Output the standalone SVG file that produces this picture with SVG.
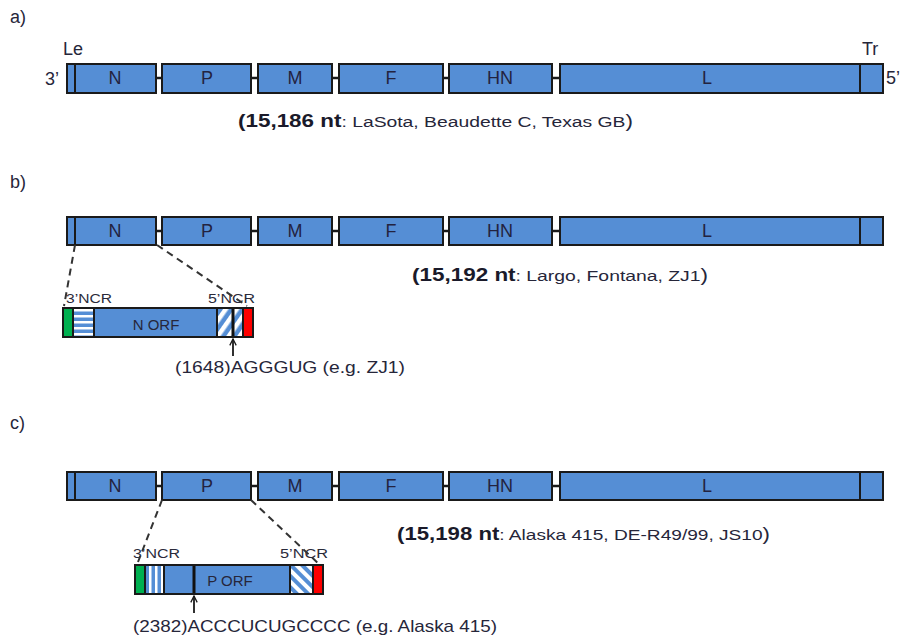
<svg xmlns="http://www.w3.org/2000/svg" width="904" height="637" viewBox="0 0 904 637">
  <style>
    .gene { fill: #558ed5; stroke: #1a1a1a; stroke-width: 2; }
    .div { stroke: #1a1a1a; stroke-width: 2; fill: none; }
    .link { stroke: #1a1a1a; stroke-width: 2.5; }
    .dash { stroke: #333; stroke-width: 2; stroke-dasharray: 7 5; fill: none; }
    .glabel { font-family: "Liberation Sans", Arial, sans-serif; font-size: 18px; fill: #23233f; text-anchor: middle; }
    .txt { font-family: "Liberation Sans", Arial, sans-serif; fill: #26263a; }
    .small { font-family: "Liberation Sans", Arial, sans-serif; font-size: 12px; fill: #2a2a3a; }
    .bold { font-weight: bold; font-size: 18px; fill: #1a1a2a; }
    .out { fill: none; stroke: #1a1a1a; stroke-width: 2; }
  </style>
  <defs>
    <pattern id="hstripe" patternUnits="userSpaceOnUse" width="10" height="6">
      <rect width="10" height="6" fill="#558ed5"/>
      <rect y="3" width="10" height="2.5" fill="#ffffff"/>
    </pattern>
    <pattern id="vstripe" patternUnits="userSpaceOnUse" width="6" height="10" x="146">
      <rect width="6" height="10" fill="#558ed5"/>
      <rect x="3" width="2.5" height="10" fill="#ffffff"/>
    </pattern>
    <pattern id="dstripeR" patternUnits="userSpaceOnUse" width="9" height="9" patternTransform="rotate(35)">
      <rect width="9" height="9" fill="#558ed5"/>
      <rect width="4.5" height="9" fill="#ffffff"/>
    </pattern>
    <pattern id="dstripeL" patternUnits="userSpaceOnUse" width="8" height="8" patternTransform="rotate(-45)">
      <rect width="8" height="8" fill="#558ed5"/>
      <rect width="4" height="8" fill="#ffffff"/>
    </pattern>
    <marker id="arrowUp" viewBox="0 0 10 10" refX="5" refY="1" markerWidth="8" markerHeight="8" orient="0" markerUnits="userSpaceOnUse">
      <path d="M1,9 L5,1 L9,9" fill="none" stroke="#1a1a1a" stroke-width="1.6"/>
    </marker>
  </defs>

  <!-- panel letters -->
  <text class="txt" x="10" y="23" font-size="18">a)</text>
  <text class="txt" x="10" y="188" font-size="18">b)</text>
  <text class="txt" x="10" y="429" font-size="18">c)</text>

  <!-- ===== Panel a: genome map ===== -->
  <g id="genome-a">
    <text class="txt" x="63" y="55" font-size="18">Le</text>
    <text class="txt" x="862" y="55" font-size="18">Tr</text>
    <text class="txt" x="45" y="85" font-size="18">3’</text>
    <text class="txt" x="886" y="84" font-size="18">5’</text>
    <g id="a-N"><rect class="gene" x="67" y="64" width="89" height="29"/><line class="div" x1="75" y1="64" x2="75" y2="93"/><text class="glabel" x="115" y="84">N</text></g>
    <g id="a-P"><rect class="gene" x="162" y="64" width="89" height="29"/><text class="glabel" x="207" y="84">P</text></g>
    <g id="a-M"><rect class="gene" x="258" y="64" width="74" height="29"/><text class="glabel" x="295" y="84">M</text></g>
    <g id="a-F"><rect class="gene" x="339" y="64" width="104" height="29"/><text class="glabel" x="391" y="84">F</text></g>
    <g id="a-HN"><rect class="gene" x="449" y="64" width="103" height="29"/><text class="glabel" x="500" y="84">HN</text></g>
    <g id="a-L"><rect class="gene" x="560" y="64" width="323" height="29"/><line class="div" x1="860" y1="64" x2="860" y2="93"/><text class="glabel" x="707" y="84">L</text></g>
    <g id="a-links">
      <line class="link" x1="156" y1="78" x2="162" y2="78"/>
      <line class="link" x1="251" y1="78" x2="258" y2="78"/>
      <line class="link" x1="332" y1="78" x2="339" y2="78"/>
      <line class="link" x1="443" y1="78" x2="449" y2="78"/>
      <line class="link" x1="552" y1="78" x2="560" y2="78"/>
    </g>
    <text class="txt" x="238" y="127" font-size="15.5" textLength="395" lengthAdjust="spacingAndGlyphs"><tspan class="bold">(15,186 nt</tspan>: LaSota, Beaudette C, Texas GB<tspan font-size="18">)</tspan></text>
  </g>

  <!-- ===== Panel b: genome map ===== -->
  <g id="genome-b">
    <g id="b-N"><rect class="gene" x="67" y="217" width="89" height="28"/><line class="div" x1="75" y1="217" x2="75" y2="245"/><text class="glabel" x="115" y="237">N</text></g>
    <g id="b-P"><rect class="gene" x="162" y="217" width="89" height="28"/><text class="glabel" x="207" y="237">P</text></g>
    <g id="b-M"><rect class="gene" x="258" y="217" width="74" height="28"/><text class="glabel" x="295" y="237">M</text></g>
    <g id="b-F"><rect class="gene" x="339" y="217" width="104" height="28"/><text class="glabel" x="391" y="237">F</text></g>
    <g id="b-HN"><rect class="gene" x="449" y="217" width="103" height="28"/><text class="glabel" x="500" y="237">HN</text></g>
    <g id="b-L"><rect class="gene" x="560" y="217" width="323" height="28"/><line class="div" x1="860" y1="217" x2="860" y2="245"/><text class="glabel" x="707" y="237">L</text></g>
    <g id="b-links">
      <line class="link" x1="156" y1="231" x2="162" y2="231"/>
      <line class="link" x1="251" y1="231" x2="258" y2="231"/>
      <line class="link" x1="332" y1="231" x2="339" y2="231"/>
      <line class="link" x1="443" y1="231" x2="449" y2="231"/>
      <line class="link" x1="552" y1="231" x2="560" y2="231"/>
    </g>
    <text class="txt" x="412" y="281" font-size="15.5" textLength="296" lengthAdjust="spacingAndGlyphs"><tspan class="bold">(15,192 nt</tspan>: Largo, Fontana, ZJ1<tspan font-size="18">)</tspan></text>
  </g>

  <!-- N gene detail -->
  <g id="b-Ngene">
    <text class="small" x="66" y="303" textLength="46" lengthAdjust="spacingAndGlyphs">3’NCR</text>
    <text class="small" x="208" y="303" textLength="47" lengthAdjust="spacingAndGlyphs">5’NCR</text>
    <rect x="63" y="308" width="10" height="29" fill="#00b050"/>
    <rect x="73" y="308" width="21" height="29" fill="url(#hstripe)"/>
    <rect x="94" y="308" width="123" height="29" fill="#558ed5"/>
    <rect x="217" y="308" width="26" height="29" fill="url(#dstripeR)"/>
    <rect x="243" y="308" width="10" height="29" fill="#ff0000"/>
    <line class="div" x1="73" y1="308" x2="73" y2="337"/>
    <line class="div" x1="94" y1="308" x2="94" y2="337"/>
    <line class="div" x1="217" y1="308" x2="217" y2="337"/>
    <line class="div" x1="243" y1="308" x2="243" y2="337"/>
    <line x1="233" y1="308" x2="233" y2="337" stroke="#111" stroke-width="3"/>
    <rect class="out" x="63" y="308" width="190" height="29"/>
    <text class="txt" x="156" y="330" font-size="15" text-anchor="middle" fill="#23233f">N ORF</text>
    <text class="txt" x="175" y="373" font-size="17" textLength="230" lengthAdjust="spacingAndGlyphs">(1648)AGGGUG (e.g. ZJ1)</text>
  </g>

  <!-- ===== Panel c: genome map ===== -->
  <g id="genome-c">
    <g id="c-N"><rect class="gene" x="67" y="472" width="89" height="28"/><line class="div" x1="75" y1="472" x2="75" y2="500"/><text class="glabel" x="115" y="492">N</text></g>
    <g id="c-P"><rect class="gene" x="162" y="472" width="89" height="28"/><text class="glabel" x="207" y="492">P</text></g>
    <g id="c-M"><rect class="gene" x="258" y="472" width="74" height="28"/><text class="glabel" x="295" y="492">M</text></g>
    <g id="c-F"><rect class="gene" x="339" y="472" width="104" height="28"/><text class="glabel" x="391" y="492">F</text></g>
    <g id="c-HN"><rect class="gene" x="449" y="472" width="103" height="28"/><text class="glabel" x="500" y="492">HN</text></g>
    <g id="c-L"><rect class="gene" x="560" y="472" width="323" height="28"/><line class="div" x1="860" y1="472" x2="860" y2="500"/><text class="glabel" x="707" y="492">L</text></g>
    <g id="c-links">
      <line class="link" x1="156" y1="486" x2="162" y2="486"/>
      <line class="link" x1="251" y1="486" x2="258" y2="486"/>
      <line class="link" x1="332" y1="486" x2="339" y2="486"/>
      <line class="link" x1="443" y1="486" x2="449" y2="486"/>
      <line class="link" x1="552" y1="486" x2="560" y2="486"/>
    </g>
    <text class="txt" x="397" y="540" font-size="15.5" textLength="373" lengthAdjust="spacingAndGlyphs"><tspan class="bold">(15,198 nt</tspan>: Alaska 415, DE-R49/99, JS10<tspan font-size="18">)</tspan></text>
  </g>

  <!-- P gene detail -->
  <g id="c-Pgene">
    <text class="small" x="133" y="558" textLength="47" lengthAdjust="spacingAndGlyphs">3’NCR</text>
    <text class="small" x="280" y="558" textLength="48" lengthAdjust="spacingAndGlyphs">5’NCR</text>
    <rect x="135" y="565" width="10" height="29" fill="#00b050"/>
    <rect x="145" y="565" width="19" height="29" fill="url(#vstripe)"/>
    <rect x="164" y="565" width="126" height="29" fill="#558ed5"/>
    <rect x="290" y="565" width="23" height="29" fill="url(#dstripeL)"/>
    <rect x="313" y="565" width="10" height="29" fill="#ff0000"/>
    <line class="div" x1="145" y1="565" x2="145" y2="594"/>
    <line class="div" x1="164" y1="565" x2="164" y2="594"/>
    <line class="div" x1="290" y1="565" x2="290" y2="594"/>
    <line class="div" x1="313" y1="565" x2="313" y2="594"/>
    <line x1="194" y1="565" x2="194" y2="594" stroke="#111" stroke-width="3"/>
    <rect class="out" x="135" y="565" width="188" height="29"/>
    <text class="txt" x="230" y="586" font-size="15" text-anchor="middle" fill="#23233f">P ORF</text>
    <text class="txt" x="133" y="632" font-size="17" textLength="364" lengthAdjust="spacingAndGlyphs">(2382)ACCCUCUGCCCC (e.g. Alaska 415)</text>
  </g>

  <!-- connectors: zoom lines and position arrows -->
  <g id="connectors">
    <line class="dash" x1="75" y1="245" x2="64" y2="306"/>
    <line class="dash" x1="157" y1="245" x2="247" y2="306"/>
    <line class="dash" x1="162" y1="500" x2="138" y2="562"/>
    <line class="dash" x1="251" y1="500" x2="320" y2="565"/>
    <line x1="233" y1="356" x2="233" y2="339" stroke="#1a1a1a" stroke-width="1.8" marker-end="url(#arrowUp)"/>
    <line x1="194" y1="613" x2="194" y2="596" stroke="#1a1a1a" stroke-width="1.8" marker-end="url(#arrowUp)"/>
  </g>
</svg>
